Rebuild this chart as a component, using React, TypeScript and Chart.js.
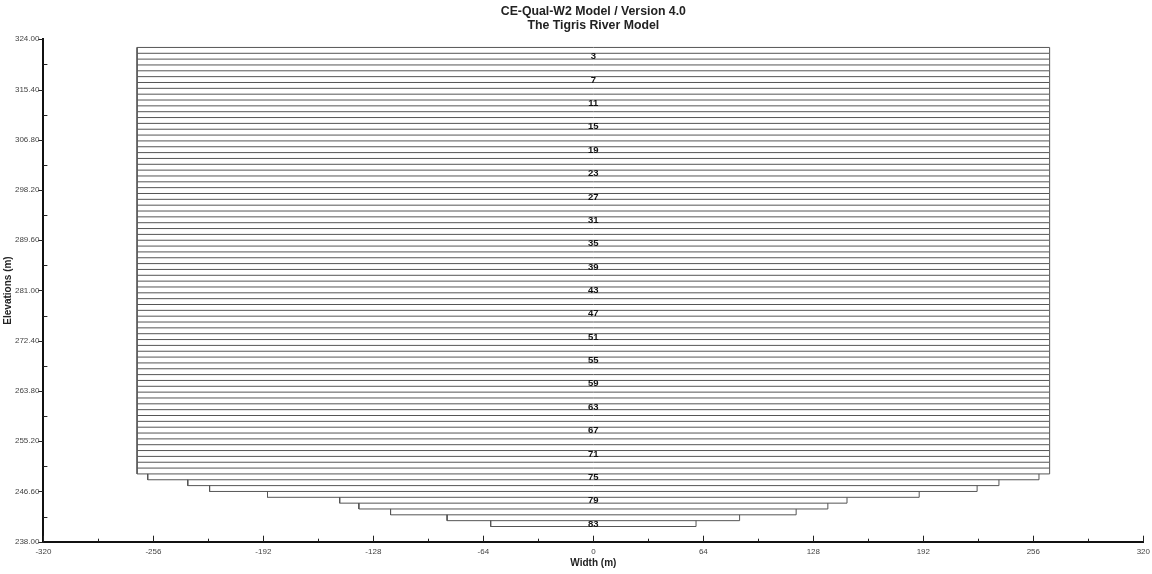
import { useEffect, useRef } from "react";
import { Chart, registerables } from "chart.js";

Chart.register(...registerables);

const FONT = "'Liberation Sans', Arial, sans-serif";

const titleLines = ["CE-Qual-W2 Model / Version 4.0", "The Tigris River Model"];
const xAxisTitle = "Width (m)";
const yAxisTitle = "Elevations (m)";

// Active layers (segment profile) — layer number, boundaries (m), widths (m)
const layerNumbers = [
  2, 3, 4, 5, 6, 7, 8, 9, 10, 11, 12, 13, 14, 15, 16, 17, 18, 19, 20, 21,
  22, 23, 24, 25, 26, 27, 28, 29, 30, 31, 32, 33, 34, 35, 36, 37, 38, 39, 40, 41,
  42, 43, 44, 45, 46, 47, 48, 49, 50, 51, 52, 53, 54, 55, 56, 57, 58, 59, 60, 61,
  62, 63, 64, 65, 66, 67, 68, 69, 70, 71, 72, 73, 74, 75, 76, 77, 78, 79, 80, 81,
  82, 83,
];

// layer top elevations followed by the bottom of the last layer
const layerBoundaries = [
  322.6, 321.6, 320.6, 319.6, 318.6, 317.6, 316.6, 315.6, 314.6, 313.6,
  312.6, 311.6, 310.6, 309.6, 308.6, 307.6, 306.6, 305.6, 304.6, 303.6,
  302.6, 301.6, 300.6, 299.6, 298.6, 297.6, 296.6, 295.6, 294.6, 293.6,
  292.6, 291.6, 290.6, 289.6, 288.6, 287.6, 286.6, 285.6, 284.6, 283.6,
  282.6, 281.6, 280.6, 279.6, 278.6, 277.6, 276.6, 275.6, 274.6, 273.6,
  272.6, 271.6, 270.6, 269.6, 268.6, 267.6, 266.6, 265.6, 264.6, 263.6,
  262.6, 261.6, 260.6, 259.6, 258.6, 257.6, 256.6, 255.6, 254.6, 253.6,
  252.6, 251.6, 250.6, 249.6, 248.6, 247.6, 246.6, 245.6, 244.6, 243.6,
  242.6, 241.6, 240.6,
];

const layerWidths = [
  531, 531, 531, 531, 531, 531, 531, 531, 531, 531,
  531, 531, 531, 531, 531, 531, 531, 531, 531, 531,
  531, 531, 531, 531, 531, 531, 531, 531, 531, 531,
  531, 531, 531, 531, 531, 531, 531, 531, 531, 531,
  531, 531, 531, 531, 531, 531, 531, 531, 531, 531,
  531, 531, 531, 531, 531, 531, 531, 531, 531, 531,
  531, 531, 531, 531, 531, 531, 531, 531, 531, 531,
  531, 531, 531,
  518.6, 472.0, 446.6, 379.2, 295.2, 272.9, 236.0, 170.2, 119.5,
];

const labeledLayers = [3, 7, 11, 15, 19, 23, 27, 31, 35, 39, 43, 47, 51, 55, 59, 63, 67, 71, 75, 79, 83];

const xMajorTicks = [-320, -256, -192, -128, -64, 0, 64, 128, 192, 256, 320];
const xTickLabels = ["-320", "-256", "-192", "-128", "-64", "0", "64", "128", "192", "256", "320"];
const xMinorTicks = [-288, -224, -160, -96, -32, 32, 96, 160, 224, 288];

const yMajorTicks = [238, 246.6, 255.2, 263.8, 272.4, 281, 289.6, 298.2, 306.8, 315.4, 324];
const yTickLabels = ["238.00", "246.60", "255.20", "263.80", "272.40", "281.00", "289.60", "298.20", "306.80", "315.40", "324.00"];
const yMinorTicks = [242.3, 250.9, 259.5, 268.1, 276.7, 285.3, 293.9, 302.5, 311.1, 319.7];

const layerLabelPlugin = {
  id: "layerLabels",
  afterDatasetsDraw(chart: any) {
    const { ctx, scales } = chart;
    const xs = scales.x;
    const ys = scales.y;
    ctx.save();
    ctx.font = `bold 9.5px ${FONT}`;
    ctx.fillStyle = "#111";
    ctx.textAlign = "center";
    ctx.textBaseline = "middle";
    labeledLayers.forEach((n) => {
      const i = layerNumbers.indexOf(n);
      if (i < 0) return;
      const y = (ys.getPixelForValue(layerBoundaries[i]) + ys.getPixelForValue(layerBoundaries[i + 1])) / 2;
      ctx.fillText(String(n), xs.getPixelForValue(0), y + 0.5);
    });
    ctx.restore();
  },
};

const tickPlugin = {
  id: "axisTicks",
  afterDraw(chart: any) {
    const { ctx, scales, chartArea } = chart;
    const xs = scales.x;
    const ys = scales.y;
    ctx.save();
    ctx.strokeStyle = "#222";
    ctx.lineWidth = 1;
    ctx.beginPath();
    yMajorTicks.forEach((v) => {
      const y = Math.round(ys.getPixelForValue(v)) + 0.5;
      ctx.moveTo(chartArea.left - 5, y);
      ctx.lineTo(chartArea.left, y);
    });
    yMinorTicks.forEach((v) => {
      const y = Math.round(ys.getPixelForValue(v)) + 0.5;
      ctx.moveTo(chartArea.left, y);
      ctx.lineTo(chartArea.left + 4, y);
    });
    xMajorTicks.forEach((v) => {
      const x = Math.round(xs.getPixelForValue(v)) + 0.5;
      ctx.moveTo(x, chartArea.bottom);
      ctx.lineTo(x, chartArea.bottom - 6);
    });
    xMinorTicks.forEach((v) => {
      const x = Math.round(xs.getPixelForValue(v)) + 0.5;
      ctx.moveTo(x, chartArea.bottom);
      ctx.lineTo(x, chartArea.bottom - 3);
    });
    ctx.stroke();
    ctx.restore();
  },
};

export default function App() {
  const ref = useRef<HTMLCanvasElement | null>(null);

  useEffect(() => {
    if (!ref.current) return;
    Chart.defaults.font.family = FONT;

    // each layer: left side, bottom, right side (top of first layer closes the box)
    const pts: any[] = [];
    for (let i = 0; i < layerNumbers.length; i++) {
      const top = layerBoundaries[i];
      const bot = layerBoundaries[i + 1];
      const hw = layerWidths[i] / 2;
      pts.push({ x: -hw, y: top }, { x: -hw, y: bot }, { x: hw, y: bot }, { x: hw, y: top });
      if (i === 0) pts.push({ x: -hw, y: top });
      pts.push({ x: null, y: null });
    }

    const chart = new Chart(ref.current, {
      type: "scatter",
      data: {
        datasets: [
          {
            data: pts,
            showLine: true,
            borderColor: "#555",
            borderWidth: 1,
            pointRadius: 0,
            pointHoverRadius: 0,
            spanGaps: false,
            tension: 0,
          } as any,
        ],
      },
      options: {
        animation: false,
        responsive: false,
        devicePixelRatio: 1,
        events: [],
        layout: { padding: { left: 0, right: 8.7, top: 0, bottom: 0 } },
        plugins: {
          legend: { display: false },
          tooltip: { enabled: false },
          title: {
            display: true,
            fullSize: false,
            text: titleLines,
            color: "#222",
            font: { family: FONT, size: 12.3, weight: "bold", lineHeight: 1.1 },
            padding: { top: 5, bottom: 7.2 },
          },
        },
        scales: {
          x: {
            type: "linear",
            min: -320,
            max: 320,
            afterBuildTicks: (s: any) => {
              s.ticks = xMajorTicks.map((v) => ({ value: v }));
            },
            afterFit: (s: any) => {
              s.height = 32.3;
              s.paddingLeft = 0;
              s.paddingRight = 0;
            },
            grid: { display: false, drawTicks: false },
            border: { display: true, color: "#111", width: 2 },
            ticks: {
              color: "#444",
              font: { family: FONT, size: 8 },
              padding: 5,
              maxRotation: 0,
              autoSkip: false,
              callback: (v: any) => {
                const i = xMajorTicks.indexOf(Number(v));
                return i >= 0 ? xTickLabels[i] : "";
              },
            },
            title: {
              display: true,
              text: xAxisTitle,
              color: "#222",
              font: { family: FONT, size: 10, weight: "bold", lineHeight: 1.2 },
              padding: { top: 0, bottom: 4.7 },
            },
          },
          y: {
            type: "linear",
            min: 238,
            max: 324,
            afterBuildTicks: (s: any) => {
              s.ticks = yMajorTicks.map((v) => ({ value: v }));
            },
            afterFit: (s: any) => {
              s.width = 43.4;
            },
            grid: { display: false, drawTicks: false },
            border: { display: true, color: "#111", width: 2 },
            ticks: {
              color: "#444",
              font: { family: FONT, size: 8 },
              padding: 4,
              autoSkip: false,
              callback: (v: any) => {
                const i = yMajorTicks.findIndex((t) => Math.abs(t - Number(v)) < 1e-6);
                return i >= 0 ? yTickLabels[i] : "";
              },
            },
            title: {
              display: true,
              text: yAxisTitle,
              color: "#222",
              font: { family: FONT, size: 10, weight: "bold", lineHeight: 1.2 },
              padding: { top: 2, bottom: 0 },
            },
          },
        },
      },
      plugins: [layerLabelPlugin, tickPlugin],
    });

    return () => chart.destroy();
  }, []);

  return (
    <div style={{ position: "fixed", left: 0, top: 0, width: 1152, height: 574, background: "#fff" }}>
      <canvas ref={ref} width={1152} height={574} style={{ display: "block", width: 1152, height: 574 }} />
    </div>
  );
}
